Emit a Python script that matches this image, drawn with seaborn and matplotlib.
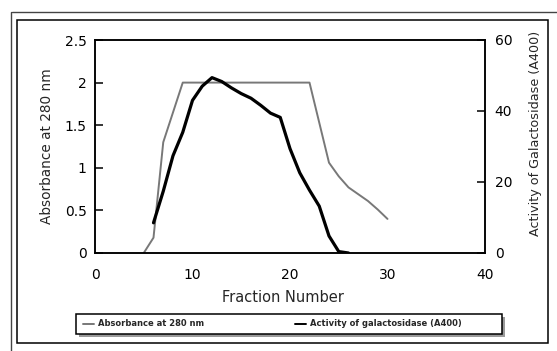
import matplotlib
matplotlib.use("Agg")
import matplotlib.pyplot as plt
from matplotlib.patches import Rectangle
from matplotlib.lines import Line2D
import seaborn as sns
import pandas as pd

# Elution profile: absorbance of each fraction and galactosidase activity
fraction_abs = [5, 6, 7, 8, 9, 10, 11, 12, 13, 14, 15, 16, 17, 18, 19, 20,
                21, 22, 23, 24, 25, 26, 27, 28, 29, 30]
absorbance = [0.0, 0.18, 1.3, 1.65, 2.0, 2.0, 2.0, 2.0, 2.0, 2.0, 2.0, 2.0,
              2.0, 2.0, 2.0, 2.0, 2.0, 2.0, 1.53, 1.06, 0.9, 0.77, 0.69,
              0.61, 0.51, 0.40]

fraction_act = [6, 7, 8, 9, 10, 11, 12, 13, 14, 15, 16, 17, 18, 19, 20, 21,
                22, 23, 24, 25, 26]
activity = [8.5, 17.4, 27.4, 34.0, 43.0, 47.0, 49.4, 48.3, 46.5, 44.9, 43.6,
            41.6, 39.4, 38.2, 29.4, 22.6, 17.7, 13.2, 4.8, 0.4, 0.0]

x_ticks = [0, 10, 20, 30, 40]
abs_ticks = [0, 0.5, 1, 1.5, 2, 2.5]
abs_tick_labels = ["0", "0.5", "1", "1.5", "2", "2.5"]
act_ticks = [0, 20, 40, 60]

label_abs = "Absorbance at 280 nm"
label_act = "Activity of galactosidase (A400)"

df_abs = pd.DataFrame({"fraction": fraction_abs, "absorbance": absorbance})
df_act = pd.DataFrame({"fraction": fraction_act, "activity": activity})

sns.set_theme(style="white")
plt.rcParams["font.family"] = ["DejaVu Sans"]
plt.rcParams["axes.linewidth"] = 1.1

W, H = 557, 351
fig = plt.figure(figsize=(W / 100, H / 100), dpi=100)
fig.patch.set_facecolor("white")

ax = fig.add_axes([95 / W, 1 - 253 / H, 390 / W, 213 / H])
ax2 = ax.twinx()

grey = "#787878"
sns.lineplot(data=df_abs, x="fraction", y="absorbance", ax=ax,
             color=grey, linewidth=1.4)
sns.lineplot(data=df_act, x="fraction", y="activity", ax=ax2,
             color="black", linewidth=2.3)

ax.set_xlim(0, 40)
ax.set_ylim(0, 2.5)
ax2.set_ylim(0, 60)
ax.set_xticks(x_ticks)
ax.set_xticklabels([str(t) for t in x_ticks])
ax.set_yticks(abs_ticks)
ax.set_yticklabels(abs_tick_labels)
ax2.set_yticks(act_ticks)
ax2.set_yticklabels([str(t) for t in act_ticks])

for a in (ax, ax2):
    for s in a.spines.values():
        s.set_color("black")
        s.set_linewidth(1.1)
    a.grid(False)

ax.tick_params(axis="x", direction="in", length=5.5, width=1.1,
               colors="black", labelsize=10, pad=10.5, top=False)
ax.tick_params(axis="y", direction="in", length=5.5, width=1.1,
               colors="black", labelsize=10, pad=6, right=False)
ax2.tick_params(axis="y", direction="in", length=5.5, width=1.1,
                colors="black", labelsize=10, pad=7)

ax.set_xlabel("Fraction Number", fontsize=10.5, va="center")
ax.xaxis.set_label_coords((283 - 95) / 390, (253 - 297) / 213)
ax.set_ylabel("Absorbance at 280 nm", fontsize=9.8, va="center")
ax.yaxis.set_label_coords((47 - 95) / 390, (253 - 146) / 213)
ax2.set_ylabel("Activity of Galactosidase (A400)", fontsize=9.2,
               va="center", rotation=90)
ax2.yaxis.set_label_coords((535 - 95) / 390, (253 - 133) / 213)

# Chart border
fig.add_artist(Rectangle((17 / W, 1 - 343 / H), 531 / W, 323 / H,
                         transform=fig.transFigure, fill=False,
                         edgecolor="black", linewidth=1.1))
fig.add_artist(Line2D([12 / W, 1.0], [1 - 12 / H, 1 - 12 / H],
                      transform=fig.transFigure, color="#444444", lw=1.0))
fig.add_artist(Line2D([11 / W, 11 / W], [0.0, 1 - 12 / H],
                      transform=fig.transFigure, color="#444444", lw=1.0))

# Legend box with drop shadow
fig.add_artist(Rectangle((79 / W, 1 - 337 / H), 426 / W, 20 / H,
                         transform=fig.transFigure, facecolor="#9a9a9a",
                         edgecolor="none"))
fig.add_artist(Rectangle((76 / W, 1 - 334 / H), 426 / W, 20 / H,
                         transform=fig.transFigure, facecolor="white",
                         edgecolor="black", linewidth=1.1))

h_abs = Line2D([], [], color=grey, linewidth=1.4)
h_act = Line2D([], [], color="black", linewidth=1.4)
leg_kw = dict(loc="center left", frameon=False, handlelength=1.3,
              handletextpad=0.5, borderpad=0, borderaxespad=0,
              prop={"size": 6, "weight": "bold"})
fig.legend([h_abs], [label_abs], bbox_to_anchor=(83 / W, 1 - 324 / H),
           **leg_kw)
fig.legend([h_act], [label_act], bbox_to_anchor=(295 / W, 1 - 324 / H),
           **leg_kw)

fig.savefig("out.png", dpi=100, facecolor="white")
